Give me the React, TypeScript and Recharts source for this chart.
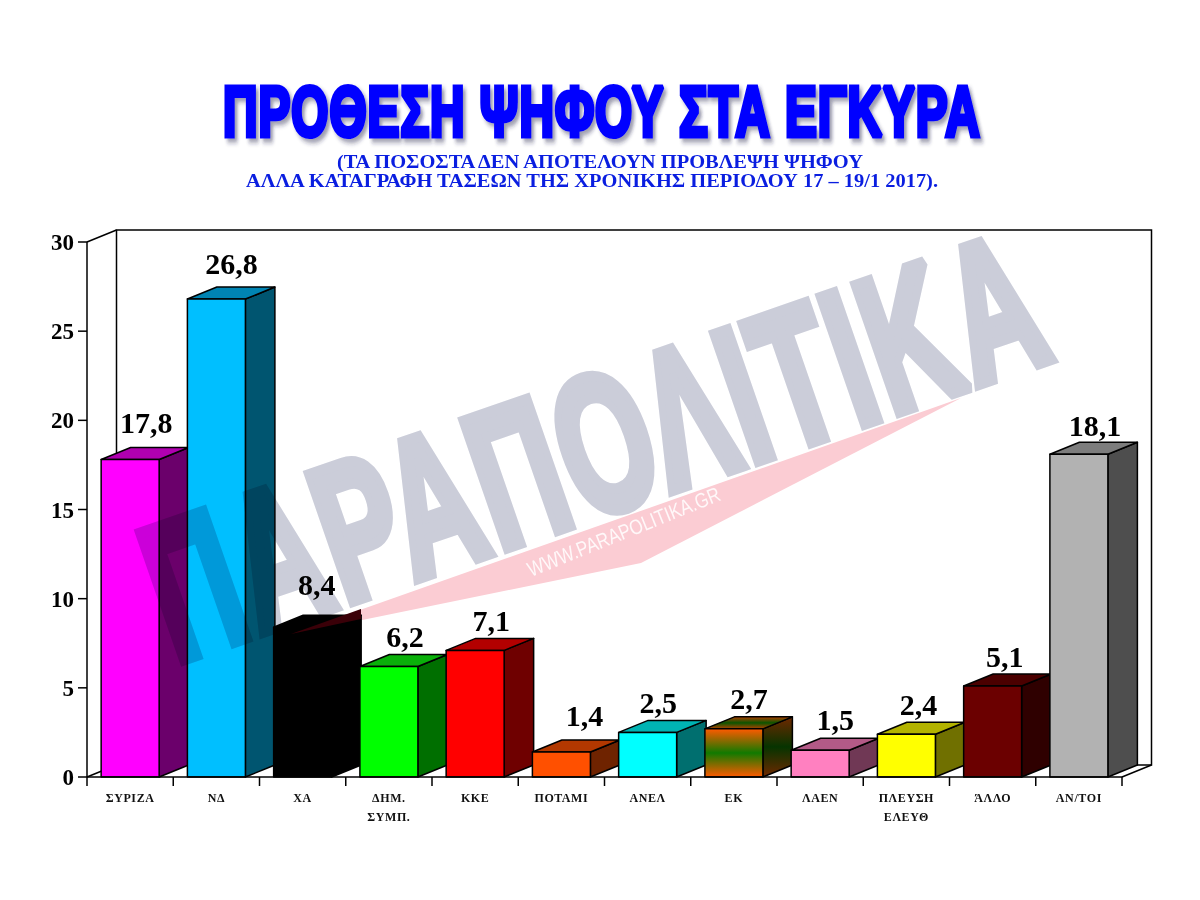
import React from 'react';
import { BarChart, Bar, XAxis, YAxis, LabelList } from 'recharts';

const categories = ['ΣΥΡΙΖΑ', 'ΝΔ', 'ΧΑ', 'ΔΗΜ.\nΣΥΜΠ.', 'ΚΚΕ', 'ΠΟΤΑΜΙ', 'ΑΝΕΛ', 'ΕΚ', 'ΛΑΕΝ', 'ΠΛΕΥΣΗ\nΕΛΕΥΘ', 'ΆΛΛΟ', 'ΑΝ/ΤΟΙ'];
const values = [17.8, 26.8, 8.4, 6.2, 7.1, 1.4, 2.5, 2.7, 1.5, 2.4, 5.1, 18.1];
const yTicks = [0, 5, 10, 15, 20, 25, 30];

// front, top, side colours per bar
const frontColors = ['#ff00ff', '#00bfff', '#000000', '#00ff00', '#ff0000', '#ff5000', '#00ffff', 'url(#ekFront)', '#ff80c0', '#ffff00', '#6b0000', '#b2b2b2'];
const topColors = ['#b000b0', '#0084b3', '#000000', '#0ab00a', '#b30000', '#b33800', '#00b3b3', 'url(#ekTop)', '#b35a87', '#b3b300', '#4b0000', '#7d7d7d'];
const sideColors = ['#6b006b', '#005570', '#000000', '#006f00', '#6f0000', '#6f2300', '#006f6f', 'url(#ekSide)', '#703855', '#707000', '#2f0000', '#4e4e4e'];
// hand-placed label nudges of the original, relative to the bar's top centre
const labelDx = [16, 15, 14, 16, 16, 23, 10.5, 15, 15, 12, 12, 16];
const labelDy = [-27, -25, -32, -19, -19, -26, -19, -20, -20, -19, -19, -18];

const tableData = categories.map((name, i) => ({ name, value: values[i] }));

const W = 1200, H = 900;
const LEFT = 87, RIGHT = 1122, TOP = 242, BOTTOM = 777;
const DX = 29.5, DY = 12;
const STEP = (RIGHT - LEFT) / categories.length;
const SERIF = '"Liberation Serif", "Times New Roman", serif';
const SANS = '"Liberation Sans", Arial, sans-serif';

function Wall() {
  const bx = LEFT + DX, rx = RIGHT + DX, ty = TOP - DY, by = BOTTOM - DY;
  return (
    <g fill="none" stroke="#000" strokeWidth={1.5}>
      <path d={`M${bx} ${by}V${ty}H${rx}V${by}H${bx}`} />
      <path d={`M${LEFT} ${TOP}L${bx} ${ty}M${LEFT} ${BOTTOM}L${bx} ${by}M${RIGHT} ${BOTTOM}L${rx} ${by}`} />
    </g>
  );
}

function Gradient({ id, a, b }: { id: string; a: string; b: string }) {
  return (
    <linearGradient id={id} x1="0" y1="0" x2="0" y2="1">
      <stop offset="0" stopColor={a} />
      <stop offset="0.5" stopColor={b} />
      <stop offset="1" stopColor={a} />
    </linearGradient>
  );
}

function Bar3D(props: any) {
  const { x, y, width, height, index } = props;
  return (
    <g stroke="#000" strokeWidth={1.5} strokeLinejoin="round">
      <path d={`M${x + width} ${y}l${DX} ${-DY}v${height}l${-DX} ${DY}z`} fill={sideColors[index]} />
      <path d={`M${x} ${y}l${DX} ${-DY}h${width}l${-DX} ${DY}z`} fill={topColors[index]} />
      <rect x={x} y={y} width={width} height={height} fill={frontColors[index]} />
    </g>
  );
}

function ValueLabel(props: any) {
  const { x, y, width, index, value } = props;
  return (
    <text x={x + width / 2 + labelDx[index]} y={y + labelDy[index]} textAnchor="middle"
      fontFamily={SERIF} fontWeight="bold" fontSize={30} fill="#000">
      {String(value).replace('.', ',')}
    </text>
  );
}

function CategoryTick(props: any) {
  const { x, payload, index } = props;
  const lines = String(payload.value).split('\n');
  const left = x - STEP / 2;
  return (
    <g>
      <line x1={left} x2={left} y1={BOTTOM} y2={BOTTOM + 9} stroke="#000" strokeWidth={1.5} />
      {index === categories.length - 1 && (
        <line x1={left + STEP} x2={left + STEP} y1={BOTTOM} y2={BOTTOM + 9} stroke="#000" strokeWidth={1.5} />
      )}
      {lines.map((line: string, i: number) => (
        <text key={i} x={x} y={802 + i * 19} textAnchor="middle" fontFamily={SERIF} fontWeight="bold"
          fontSize={12} letterSpacing={0.6} fill="#111">{line}</text>
      ))}
    </g>
  );
}

export default function App() {
  return (
    <div style={{ position: 'absolute', left: 0, top: 0, width: W, height: H, background: '#fff', isolation: 'isolate', overflow: 'hidden' }}>
      <BarChart width={W} height={H} data={tableData} barCategoryGap="16.4%"
        margin={{ top: TOP, right: W - RIGHT, bottom: 63, left: 47 }}>
        <defs>
          <Gradient id="ekFront" a="#ff5a00" b="#107a00" />
          <Gradient id="ekTop" a="#b34000" b="#0b5500" />
          <Gradient id="ekSide" a="#6f2800" b="#063400" />
        </defs>
        <Wall />
        <XAxis dataKey="name" interval={0} height={60} tickSize={8}
          axisLine={{ stroke: '#000', strokeWidth: 1.5 }} tickLine={false}
          tick={<CategoryTick />} />
        <YAxis width={40} domain={[0, 30]} ticks={yTicks} interval={0} tickSize={9} tickMargin={4}
          axisLine={{ stroke: '#000', strokeWidth: 1.5 }} tickLine={{ stroke: '#000', strokeWidth: 1.5 }}
          tick={{ fontFamily: SERIF, fontWeight: 'bold', fontSize: 23, fill: '#000' }} />
        <Bar dataKey="value" isAnimationActive={false} shape={<Bar3D />}>
          <LabelList dataKey="value" content={<ValueLabel />} />
        </Bar>
      </BarChart>

      {/* watermark, printed over the chart */}
      <svg width={W} height={H} style={{ position: 'absolute', left: 0, top: 0, mixBlendMode: 'multiply', pointerEvents: 'none' }}>
        <text transform="translate(175 663) rotate(-19.1) scale(0.6 1)" fontFamily={SANS} fontWeight="bold" fontSize={195}
          textLength={1560} lengthAdjust="spacingAndGlyphs" letterSpacing={6} fill="#cbcdd9" stroke="#cbcdd9" strokeWidth={11}
          strokeLinejoin="miter" strokeMiterlimit={2}>ΠΑΡΑΠΟΛΙΤΙΚΑ</text>
        <polygon points="289,635 961,398 641,563" fill="#fbccd3" />
      </svg>
      <svg width={W} height={H} style={{ position: 'absolute', left: 0, top: 0, pointerEvents: 'none' }}>
        <polygon points="291,634 361,609 361,619" fill="#3a0008" />
        <text transform="translate(531 577) rotate(-22)" fontFamily={SANS} fontSize={21}
          textLength={206} lengthAdjust="spacingAndGlyphs" fill="#ffffff" fillOpacity={0.85}>WWW.PARAPOLITIKA.GR</text>
        <defs>
          <filter id="titleShadow" x="-5%" y="-20%" width="110%" height="150%">
            <feDropShadow dx="4" dy="4" stdDeviation="2.5" floodColor="#20204a" floodOpacity="0.45" />
          </filter>
        </defs>
        <text transform="translate(223 136) scale(0.69 1)" fontFamily={SANS} fontWeight="bold" fontSize={70} textLength={1098}
          lengthAdjust="spacingAndGlyphs" letterSpacing={1.5} fill="#0000ff" stroke="#0000ff" strokeWidth={5}
          strokeLinejoin="miter" strokeMiterlimit={2}
          filter="url(#titleShadow)">ΠΡΟΘΕΣΗ ΨΗΦΟΥ ΣΤΑ ΕΓΚΥΡΑ</text>
        <text x={337} y={168} fontFamily={SERIF} fontWeight="bold" fontSize={18.5} textLength={526}
          lengthAdjust="spacingAndGlyphs" fill="#0a1ee0">(ΤΑ ΠΟΣΟΣΤΑ ΔΕΝ ΑΠΟΤΕΛΟΥΝ ΠΡΟΒΛΕΨΗ ΨΗΦΟΥ</text>
        <text x={246} y={187} fontFamily={SERIF} fontWeight="bold" fontSize={18.5} textLength={692}
          lengthAdjust="spacingAndGlyphs" fill="#0a1ee0">ΑΛΛΑ ΚΑΤΑΓΡΑΦΗ ΤΑΣΕΩΝ ΤΗΣ ΧΡΟΝΙΚΗΣ ΠΕΡΙΟΔΟΥ 17 – 19/1 2017).</text>
      </svg>
    </div>
  );
}
